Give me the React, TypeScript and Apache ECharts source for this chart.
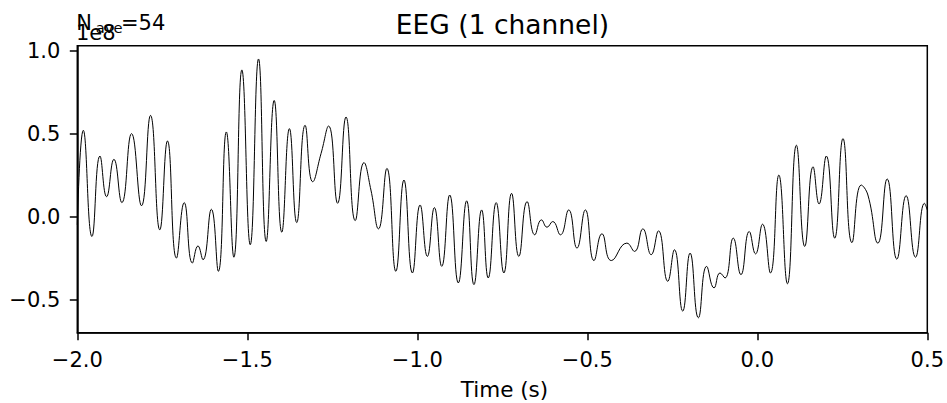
import React, { useEffect, useRef } from "react";
import * as echarts from "echarts";

const times = [
  -2.0, -1.9824, -1.9569, -1.9334, -1.9138, -1.8923, -1.8689, -1.8404, -1.8111, -1.7847,
  -1.7574, -1.7348, -1.7084, -1.6855, -1.6615, -1.6451, -1.6304, -1.6057, -1.5852, -1.5617,
  -1.5395, -1.516, -1.4913, -1.467, -1.4444, -1.4209, -1.3986, -1.3761, -1.3547, -1.33,
  -1.3077, -1.2831, -1.2608, -1.2344, -1.2097, -1.1825, -1.1569, -1.1364, -1.1141, -1.0895,
  -1.0631, -1.0393, -1.0144, -0.9918, -0.9704, -0.9498, -0.9281, -0.9047, -0.8794, -0.8548,
  -0.8334, -0.8108, -0.7914, -0.768, -0.7454, -0.7228, -0.7014, -0.677, -0.6544, -0.6348,
  -0.6184, -0.6017, -0.5791, -0.5547, -0.5304, -0.5057, -0.4805, -0.457, -0.4294, -0.3837,
  -0.3611, -0.3367, -0.3121, -0.2907, -0.2634, -0.2437, -0.2194, -0.1977, -0.1733, -0.149,
  -0.1273, -0.1097, -0.095, -0.0707, -0.0481, -0.0237, -0.0053, 0.0153, 0.0387, 0.0633,
  0.0886, 0.115, 0.1396, 0.164, 0.1816, 0.203, 0.2276, 0.252, 0.2784, 0.3057,
  0.3253, 0.3547, 0.3819, 0.4104, 0.4377, 0.4653, 0.4917, 0.5,
];

const values = [
  -0.05, 0.52, -0.12, 0.365, 0.12, 0.345, 0.084, 0.5, 0.065, 0.61,
  -0.08, 0.456, -0.25, 0.084, -0.28, -0.177, -0.26, 0.044, -0.33, 0.51,
  -0.245, 0.884, -0.17, 0.95, -0.15, 0.7, -0.094, 0.53, -0.036, 0.55,
  0.21, 0.38, 0.546, 0.08, 0.6, -0.024, 0.325, 0.16, -0.074, 0.29,
  -0.33, 0.22, -0.34, 0.07, -0.24, 0.054, -0.3, 0.13, -0.4, 0.095,
  -0.41, 0.04, -0.37, 0.084, -0.34, 0.14, -0.24, 0.09, -0.11, -0.02,
  -0.064, -0.03, -0.11, 0.04, -0.19, 0.04, -0.265, -0.104, -0.265, -0.16,
  -0.21, -0.074, -0.23, -0.086, -0.39, -0.2, -0.57, -0.22, -0.61, -0.3,
  -0.43, -0.34, -0.37, -0.13, -0.35, -0.09, -0.225, -0.046, -0.34, 0.25,
  -0.405, 0.43, -0.18, 0.3, 0.076, 0.365, -0.13, 0.47, -0.157, 0.19,
  0.13, -0.16, 0.227, -0.257, 0.126, -0.245, 0.08, 0.04,
];

const yTicks = [-0.5, 0.0, 0.5, 1.0];
const titleText = "EEG (1 channel)";
const xAxisTitle = "Time (s)";
const naveText = "=54";
const offsetText = "1e8";

const FONT = "DejaVu Sans";

const fmt = (v: number) => {
  const r = Math.abs(v) < 1e-9 ? 0 : v;
  const s = r.toFixed(1);
  return s.startsWith("-") ? "\u2212" + s.slice(1) : s;
};

export default function App() {
  const ref = useRef<HTMLDivElement>(null);

  useEffect(() => {
    document.body.style.margin = "0";
    if (!ref.current) return;
    const chart = echarts.init(ref.current, null, { renderer: "svg" });
    const data = times.map((t, i) => [t, values[i]]);
    const axisLineStyle = { color: "#000", width: 1.5 };
    chart.setOption({
      animation: false,
      backgroundColor: "#fff",
      grid: {
        left: 77.3,
        right: 17.5,
        top: 45.7,
        bottom: 70.3,
        show: true,
        borderColor: "#000",
        borderWidth: 1.5,
        backgroundColor: "transparent",
      },
      xAxis: {
        type: "value",
        min: -2.0,
        max: 0.5,
        interval: 0.5,
        axisLine: { show: true, onZero: false, lineStyle: axisLineStyle },
        axisTick: { show: true, inside: false, length: 7.5, lineStyle: axisLineStyle },
        axisLabel: {
          formatter: fmt,
          color: "#000",
          fontSize: 21,
          fontFamily: FONT,
          margin: 17,
        },
        splitLine: { show: false },
      },
      yAxis: {
        type: "value",
        min: -0.7,
        max: 1.03,
        axisLine: { show: true, onZero: false, lineStyle: axisLineStyle },
        axisTick: {
          show: true,
          inside: false,
          length: 7.5,
          lineStyle: axisLineStyle,
          customValues: yTicks,
        },
        axisLabel: {
          formatter: fmt,
          color: "#000",
          fontSize: 21,
          fontFamily: FONT,
          margin: 17,
          customValues: yTicks,
        },
        splitLine: { show: false },
      },
      series: [
        {
          type: "line",
          data,
          smooth: 0.5,
          showSymbol: false,
          symbol: "none",
          lineStyle: { color: "#000", width: 1 },
          clip: true,
        },
      ],
      graphic: [
        {
          type: "text",
          x: 502.5,
          y: 24,
          style: {
            text: titleText,
            fill: "#000",
            font: `26.5px "${FONT}"`,
            textAlign: "center",
            textVerticalAlign: "middle",
          },
        },
        {
          type: "text",
          x: 504.5,
          y: 389,
          style: {
            text: xAxisTitle,
            fill: "#000",
            font: `21.5px "${FONT}"`,
            textAlign: "center",
            textVerticalAlign: "middle",
          },
        },
        {
          type: "text",
          x: 76,
          y: 32.5,
          style: {
            text: offsetText,
            fill: "#000",
            font: `21px "${FONT}"`,
            textAlign: "left",
            textVerticalAlign: "middle",
          },
        },
        {
          type: "text",
          x: 76.3,
          y: 22.8,
          style: {
            text: "N",
            fill: "#000",
            font: `21px "${FONT}"`,
            textAlign: "left",
            textVerticalAlign: "middle",
          },
        },
        {
          type: "text",
          x: 95.8,
          y: 27,
          style: {
            text: "ave",
            fill: "#000",
            font: `14.7px "${FONT}"`,
            textAlign: "left",
            textVerticalAlign: "middle",
          },
        },
        {
          type: "text",
          x: 121,
          y: 22.8,
          style: {
            text: naveText,
            fill: "#000",
            font: `21px "${FONT}"`,
            textAlign: "left",
            textVerticalAlign: "middle",
          },
        },
      ],
    });
    return () => chart.dispose();
  }, []);

  return <div ref={ref} style={{ width: 947, height: 403 }} />;
}
